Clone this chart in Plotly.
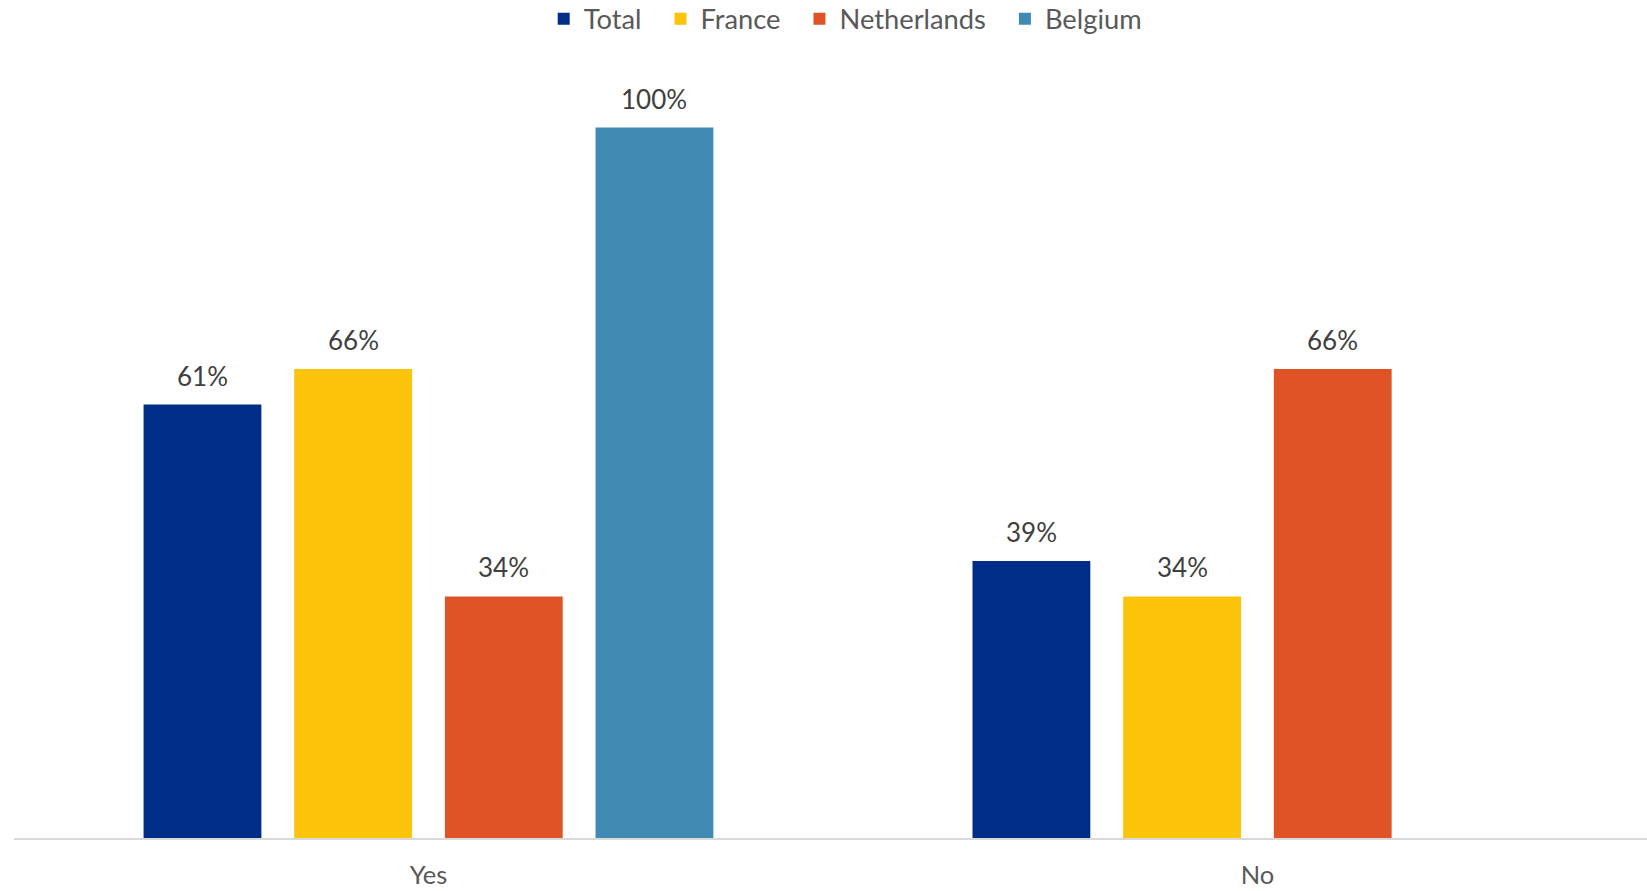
import plotly.graph_objects as go

categories = ["Yes", "No"]
series_names = ["Total", "France", "Netherlands", "Belgium"]
total = [61, 39]
france = [66, 34]
netherlands = [34, 66]
belgium = [100, None]
colors = ["#002D88", "#FCC30B", "#E05326", "#418AB3"]

series_values = [total, france, netherlands, belgium]

BARGAP = 0.273
GROUPGAP = 0.218
FONT = "Lato, 'Open Sans', sans-serif"
PAD = "\u00a0\u00a0"

xpos = list(range(len(categories)))

fig = go.Figure()
for k, (name, vals, col) in enumerate(zip(series_names, series_values, colors)):
    label = name + (PAD if k < len(series_names) - 1 else "")
    fig.add_trace(go.Bar(
        name=label, x=xpos, y=vals, marker=dict(color=col, line=dict(width=0)),
        hoverinfo="skip",
    ))

# value labels placed above bars, positioned from the grouped-bar geometry
n = len(series_names)
slot = (1 - BARGAP) / n
annotations = []
for j, vals in enumerate(series_values):
    for i, v in enumerate(vals):
        if v is None:
            continue
        annotations.append(dict(
            x=xpos[i] + (j - (n - 1) / 2) * slot, y=v, xref="x", yref="y",
            text=f"{v}%", showarrow=False, yanchor="bottom", yshift=11,
            font=dict(family=FONT, size=26, color="#404040"),
        ))

fig.update_layout(
    width=1647, height=891,
    barmode="group", bargap=BARGAP, bargroupgap=GROUPGAP,
    paper_bgcolor="white", plot_bgcolor="white",
    margin=dict(l=14, r=0, t=60, b=53, autoexpand=False),
    font=dict(family=FONT, size=26, color="#595959"),
    showlegend=True,
    legend=dict(orientation="h", x=0.509, xanchor="center", y=1.0527, yref="paper",
                yanchor="middle", font=dict(family=FONT, size=27.3, color="#595959"),
                itemwidth=30, traceorder="normal"),
    annotations=annotations,
    xaxis=dict(range=[-0.5, 1.470], tickmode="array", tickvals=xpos, ticktext=categories,
               showgrid=False, zeroline=False, showline=True, linecolor="#D9D9D9", linewidth=2,
               ticks="outside", ticklen=13, tickcolor="rgba(0,0,0,0)", automargin=False,
               tickfont=dict(family=FONT, size=25.5, color="#595959")),
    yaxis=dict(range=[0, 109.5], visible=False, showgrid=False, zeroline=False, automargin=False),
)

fig.write_html("out.html", config={"displayModeBar": False},
               post_script="document.body.style.margin='0px';")
